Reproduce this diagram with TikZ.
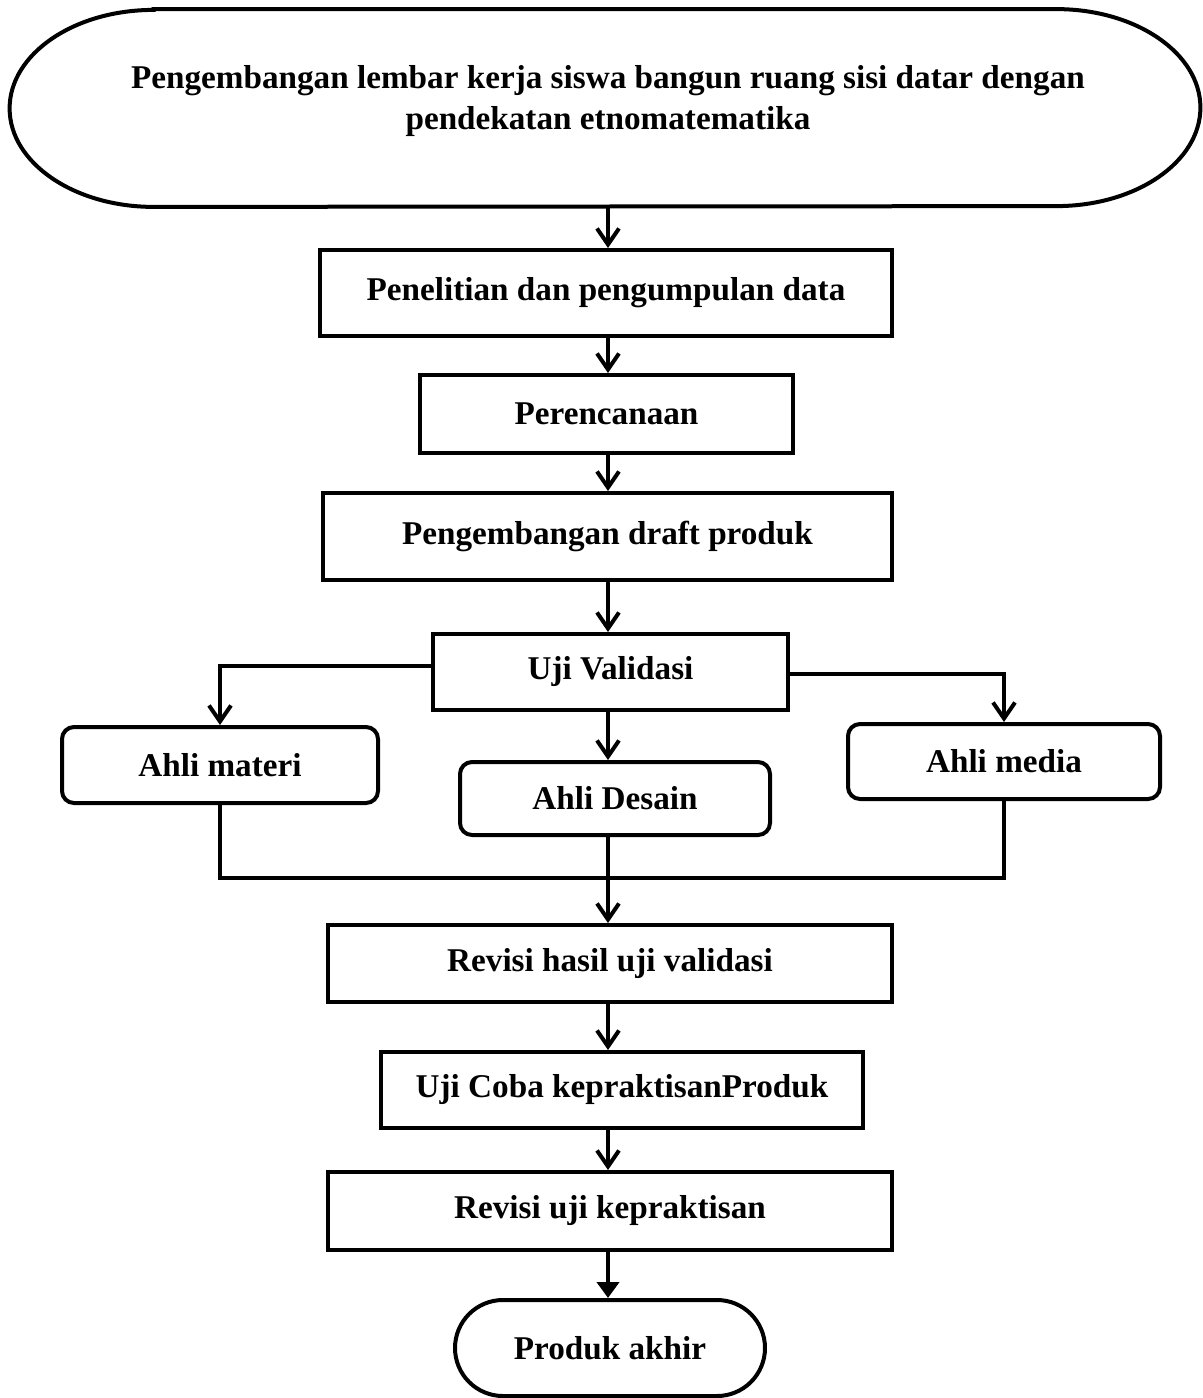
\documentclass[tikz,border=0pt]{standalone}
\usepackage{fontspec}
\setmainfont{Liberation Serif}
\usetikzlibrary{arrows.meta,shapes.misc}
\begin{document}
\begin{tikzpicture}[x=0.5pt,y=-0.5pt,
  every node/.style={font=\fontsize{16.6}{20.5}\selectfont\bfseries, inner sep=0pt, align=center},
  box/.style={draw, line width=2pt, rectangle},
  rbox/.style={draw, line width=2pt, rectangle, rounded corners=6pt},
  term/.style={draw, line width=2pt, rounded rectangle},
  conn/.style={line width=2pt},
  arr/.style={line width=2pt, -{Straight Barb[length=8pt,width=11pt,line width=2pt]}},
  arrf/.style={line width=2pt, -{Triangle[length=8pt,width=11pt]}}]
\useasboundingbox (0,0) rectangle (1203,1398);
\node[rectangle, minimum width=595pt, minimum height=98.5pt] (top) at (605,108) {};
\draw[line width=2pt] ([xshift=72pt]top.north west) -- ([xshift=-72pt]top.north east)
  arc[start angle=90, end angle=-90, x radius=72pt, y radius=49.25pt]
  -- ([xshift=72pt]top.south west)
  arc[start angle=270, end angle=90, x radius=72pt, y radius=49.25pt] -- cycle;
\node (toptext) at (608,101) {Pengembangan lembar kerja siswa bangun ruang sisi datar dengan\\pendekatan etnomatematika};
\node[box, minimum width=286pt, minimum height=43pt] (pen) at (606,293) {Penelitian dan pengumpulan data};
\node[box, minimum width=186.5pt, minimum height=39pt] (ren) at (606.5,414) {Perencanaan};
\node[box, minimum width=284.5pt, minimum height=43.5pt] (draft) at (607.5,536.5) {Pengembangan draft produk};
\node[box, minimum width=177.5pt, minimum height=38pt] (uji) at (610.5,672) {Uji Validasi};
\node[rbox, minimum width=158pt, minimum height=38pt] (materi) at (220,765) {Ahli materi};
\node[rbox, minimum width=155pt, minimum height=36.5pt] (desain) at (615,798.5) {Ahli Desain};
\node[rbox, minimum width=156pt, minimum height=37.5pt] (media) at (1004,761.5) {Ahli media};
\node[box, minimum width=282pt, minimum height=38.5pt] (rev1) at (610,963.5) {Revisi hasil uji validasi};
\node[box, minimum width=241pt, minimum height=38pt] (coba) at (622,1090) {Uji Coba kepraktisanProduk};
\node[box, minimum width=282pt, minimum height=39pt] (rev2) at (610,1211) {Revisi uji kepraktisan};
\node[term, minimum width=155pt, minimum height=48pt] (akhir) at (610,1348) {Produk akhir};
\coordinate (j) at (608,878);
\draw[arr] (top.south -| 608,0) -- (608,0 |- pen.north);
\draw[arr] (pen.south -| 608,0) -- (608,0 |- ren.north);
\draw[arr] (ren.south -| 608,0) -- (608,0 |- draft.north);
\draw[arr] (draft.south -| 608,0) -- (608,0 |- uji.north);
\draw[arr] ([yshift=3pt]uji.west) -| (materi.north);
\draw[arr] ([yshift=-1pt]uji.east) -| (media.north);
\draw[arr] (uji.south -| 608,0) -- (608,0 |- desain.north);
\draw[conn] (materi.south) |- (j) -| (media.south);
\draw[conn] (desain.south -| j) -- (j);
\draw[arr] (j) -- (j |- rev1.north);
\draw[arr] (rev1.south -| 608,0) -- (608,0 |- coba.north);
\draw[arr] (coba.south -| 608,0) -- (608,0 |- rev2.north);
\draw[arrf] (rev2.south -| 608,0) -- (608,0 |- akhir.north);
\end{tikzpicture}
\end{document}
